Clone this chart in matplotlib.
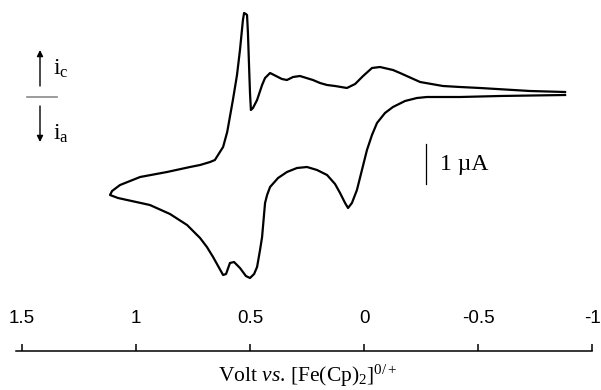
import numpy as np
import matplotlib as mpl
mpl.use("Agg")
import matplotlib.pyplot as plt

# Werte (Volt vs. Fc, Strom in µA)
# oberer Ast (i_c), von rechts nach links
v_oben = [-0.882, -0.728, -0.509, -0.421, -0.346, -0.246, -0.158, -0.127, -0.070, -0.035,
          0.004, 0.039, 0.075, 0.127, 0.162, 0.193, 0.224, 0.281, 0.311, 0.338,
          0.360, 0.386, 0.412, 0.434, 0.447, 0.469, 0.487, 0.496, 0.500, 0.504,
          0.509, 0.513, 0.518, 0.526, 0.531, 0.544, 0.557, 0.575, 0.600, 0.618,
          0.632, 0.654, 0.675, 0.719, 0.763, 0.864, 0.982, 1.070, 1.105, 1.114]
i_oben = [0.100, 0.125, 0.200, 0.225, 0.250, 0.350, 0.575, 0.650, 0.725, 0.700,
          0.500, 0.300, 0.200, 0.250, 0.275, 0.325, 0.400, 0.500, 0.475, 0.400,
          0.425, 0.500, 0.575, 0.450, 0.275, -0.100, -0.300, -0.350, 0.075, 0.725,
          1.575, 2.025, 2.050, 2.075, 1.900, 1.150, 0.525, -0.100, -0.900, -1.275,
          -1.400, -1.600, -1.650, -1.725, -1.775, -1.900, -2.025, -2.225, -2.375, -2.475]

# unterer Ast (i_a), von links nach rechts
v_unten = [1.114, 1.079, 1.039, 0.939, 0.851, 0.776, 0.719, 0.689, 0.662, 0.640,
           0.618, 0.605, 0.588, 0.570, 0.544, 0.518, 0.500, 0.482, 0.469, 0.456,
           0.447, 0.434, 0.425, 0.412, 0.377, 0.338, 0.294, 0.250, 0.206, 0.162,
           0.127, 0.105, 0.083, 0.070, 0.053, 0.031, 0.009, -0.013, -0.035, -0.057,
           -0.092, -0.127, -0.180, -0.232, -0.276, -0.421, -0.596, -0.882]
i_unten = [-2.475, -2.550, -2.600, -2.725, -2.950, -3.225, -3.550, -3.775, -4.025, -4.250,
           -4.475, -4.450, -4.175, -4.150, -4.300, -4.500, -4.550, -4.450, -4.275, -3.850,
           -3.525, -2.675, -2.475, -2.275, -2.050, -1.900, -1.800, -1.775, -1.850, -1.975,
           -2.200, -2.425, -2.675, -2.800, -2.675, -2.350, -1.850, -1.350, -0.975, -0.675,
           -0.425, -0.275, -0.125, -0.050, -0.025, -0.025, 0.000, 0.025]

ticks = [1.5, 1, 0.5, 0, -0.5, -1]
tick_labels = ['1.5', '1', '0.5', '0', '-0.5', '-1']

mpl.rcParams['mathtext.fontset'] = 'custom'
mpl.rcParams['mathtext.rm'] = 'Liberation Serif'
mpl.rcParams['mathtext.it'] = 'Liberation Serif:italic'
mpl.rcParams['axes.unicode_minus'] = False

W, H = 601, 390
fig = plt.figure(figsize=(W / 100, H / 100), dpi=100)
ax = fig.add_axes([16 / W, 0, 576 / W, 1])
ax.set_xlim(1.5 + 6 / 228, -1)
ax.set_ylim(-7.35, 2.4)

# Kurve
v_all = np.concatenate([v_oben, v_unten])
i_all = np.concatenate([i_oben, i_unten])
ax.plot(v_all, i_all, color='black', linewidth=1.6, solid_joinstyle='round')

# Achse: Linie unten, Ticks nach oben, Beschriftung darüber
for s in ['left', 'right', 'bottom']:
    ax.spines[s].set_visible(False)
ax.spines['top'].set_position(('axes', (H - 351) / H))
ax.spines['top'].set_linewidth(1.1)
ax.xaxis.set_ticks_position('top')
ax.set_xticks(ticks)
ax.set_xticklabels(tick_labels, family='Liberation Sans', fontsize=13.5)
ax.tick_params(axis='x', direction='out', length=5, width=1.1, pad=12)
ax.set_yticks([])
ax.patch.set_visible(False)

# Maßstab 1 µA
ax.plot([-0.272, -0.272], [-1.2, -2.2], color='black', linewidth=0.9)
ax.text(-0.333, -1.72, '1 µA', family='Liberation Serif', fontsize=17,
        ha='left', va='center')

# Beschriftungen links (Pixelkoordinaten)
ov = fig.add_axes([0, 0, 1, 1])
ov.set_xlim(0, W)
ov.set_ylim(H, 0)
ov.axis('off')
pfeil = dict(arrowstyle='-|>', lw=1.0, color='black', mutation_scale=9, shrinkA=0, shrinkB=0)
ov.annotate('', xy=(40, 50), xytext=(40, 86), arrowprops=pfeil)
ov.annotate('', xy=(40, 142), xytext=(40, 106), arrowprops=pfeil)
ov.plot([27, 57], [97, 97], color='#8a8a8a', linewidth=1.2)
ov.text(53, 68, r'$\mathrm{i}_\mathrm{c}$', fontsize=17, ha='left', va='center')
ov.text(53, 133, r'$\mathrm{i}_\mathrm{a}$', fontsize=17, ha='left', va='center')

fig.text(308 / W, 1 - 382 / H, r'Volt $\mathit{vs}$. [Fe(Cp)$_2$]$^{0/+}$',
         family='Liberation Serif', fontsize=15.5, ha='center', va='baseline')

fig.savefig('out.png', dpi=100)
